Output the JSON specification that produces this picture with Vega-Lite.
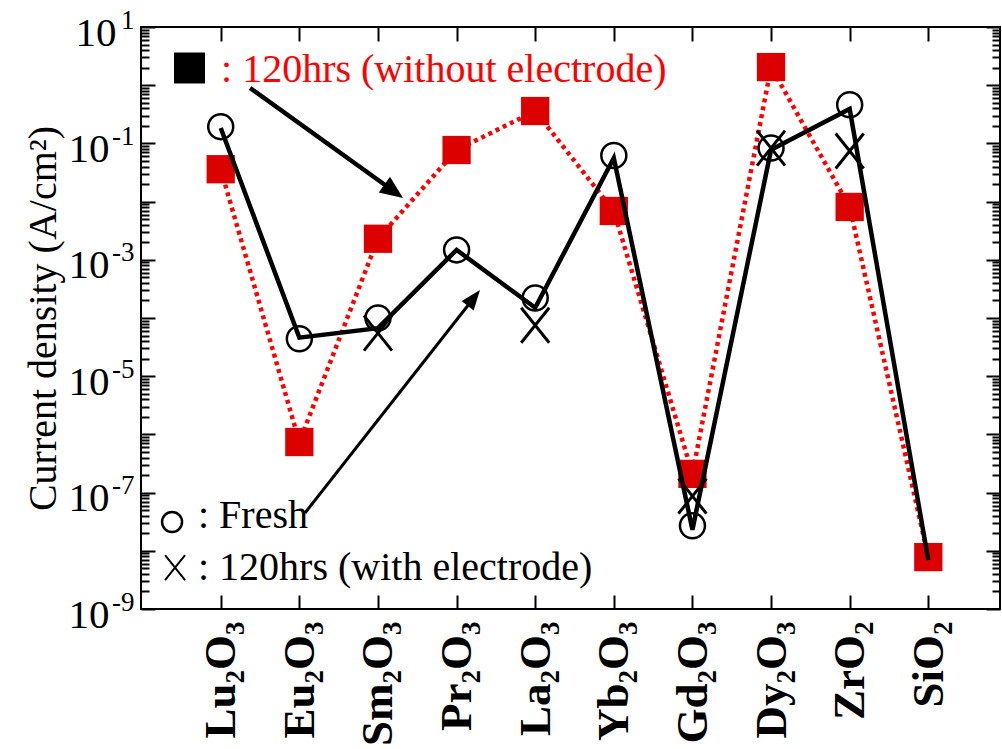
{
  "$schema": "https://vega.github.io/schema/vega-lite/v6.json",
  "width": 859,
  "height": 582,
  "autosize": "none",
  "padding": {"left": 141, "top": 27, "right": 2, "bottom": 140},
  "background": "white",
  "config": {
    "view": {"stroke": "black", "strokeWidth": 2},
    "axis": {"domain": false, "grid": false, "tickColor": "black", "tickWidth": 2, "labelColor": "black", "titleColor": "black", "labelOverlap": false, "labelFlush": false, "labelBound": false}
  },
  "datasets": {
    "main": [
      {"i": 0, "name": "Lu2O3", "red": 0.036, "fresh": 0.194, "line": 0.184, "elec": null},
      {"i": 1, "name": "Eu2O3", "red": 7.4e-7, "fresh": 4.4e-5, "line": 4.6e-5, "elec": null},
      {"i": 2, "name": "Sm2O3", "red": 2.3e-3, "fresh": 1.0e-4, "line": 6.7e-5, "elec": 5.5e-5},
      {"i": 3, "name": "Pr2O3", "red": 0.077, "fresh": 1.48e-3, "line": 1.48e-3, "elec": null},
      {"i": 4, "name": "La2O3", "red": 0.36, "fresh": 2.2e-4, "line": 1.5e-4, "elec": 7.5e-5},
      {"i": 5, "name": "Yb2O3", "red": 6.9e-3, "fresh": 0.062, "line": 0.056, "elec": null},
      {"i": 6, "name": "Gd2O3", "red": 2.1e-7, "fresh": 2.7e-8, "line": 2.3e-8, "elec": 8.7e-8},
      {"i": 7, "name": "Dy2O3", "red": 2.05, "fresh": 0.083, "line": 0.078, "elec": 0.083},
      {"i": 8, "name": "ZrO2", "red": 8.1e-3, "fresh": 0.46, "line": 0.39, "elec": 0.074},
      {"i": 9, "name": "SiO2", "red": 7.8e-9, "fresh": null, "line": 6.9e-9, "elec": null}
    ],
    "arrows": [
      {"id": 1, "x": 0.373, "y": 0.895, "x2": 2.179, "y2": 0.0158, "tx": 2.319, "ty": 0.01153},
      {"id": 2, "x": 1.072, "y": 4.47e-8, "x2": 3.219, "y2": 2.21e-4, "tx": 3.298, "ty": 3.03e-4}
    ],
    "notes": [
      {"kind": "square", "x": -0.397, "y": 1.975, "text": ""},
      {"kind": "circle", "x": -0.619, "y": 3.13e-8, "text": ""},
      {"kind": "cross", "x": -0.581, "y": 5.16e-9, "text": ""},
      {"kind": "redtext", "x": 0.004, "y": 1.113, "text": ": 120hrs (without electrode)"},
      {"kind": "blacktext", "x": -0.289, "y": 2.47e-8, "text": ": Fresh"},
      {"kind": "blacktext", "x": -0.289, "y": 3.15e-9, "text": ": 120hrs (with electrode)"}
    ]
  },
  "layer": [
    {
      "data": {"name": "main"},
      "mark": {"type": "line", "color": "#ff0000", "strokeWidth": 4.5, "strokeDash": [4, 4]},
      "encoding": {
        "x": {"field": "i", "type": "quantitative", "scale": {"domain": [-1.014, 9.912], "nice": false, "zero": false},
          "axis": {"orient": "bottom", "values": [0, 1, 2, 3, 4, 5, 6, 7, 8, 9], "tickSize": -14, "labelAngle": -90,
            "labelExpr": "['Lu₂O₃','Eu₂O₃','Sm₂O₃','Pr₂O₃','La₂O₃','Yb₂O₃','Gd₂O₃','Dy₂O₃','ZrO₂','SiO₂'][datum.value]",
            "labelFont": "Liberation Serif", "labelFontWeight": "bold", "labelFontSize": 45, "labelPadding": 26, "title": null}},
        "y": {"field": "red", "type": "quantitative", "scale": {"type": "log", "domain": [1e-9, 10], "nice": false},
          "axis": {"orient": "left", "values": [1e-9, 1e-8, 1e-7, 1e-6, 1e-5, 1e-4, 0.001, 0.01, 0.1, 1, 10], "tickSize": -14,
            "labelExpr": "(round(log(datum.value)/LN10) % 2 != 0) ? '10' : ''",
            "labelFont": "Liberation Serif", "labelFontSize": 41,
            "labelPadding": {"condition": {"test": "datum.value > 5", "value": 39}, "value": 46},
            "labelOffset": 6,
            "title": "Current density (A/cm²)", "titleFont": "Liberation Serif", "titleFontSize": 40, "titleFontWeight": "normal", "titlePadding": 5}}
      }
    },
    {
      "data": {"name": "main"},
      "mark": {"type": "point", "shape": "square", "filled": true, "color": "#dd0000", "size": 800, "opacity": 1},
      "encoding": {
        "x": {"field": "i", "type": "quantitative", "scale": {"domain": [-1.014, 9.912], "nice": false, "zero": false},
          "axis": {"orient": "top", "values": [0, 1, 2, 3, 4, 5, 6, 7, 8, 9], "tickSize": -14, "labels": false, "title": null}},
        "y": {"field": "red", "type": "quantitative", "scale": {"type": "log", "domain": [1e-9, 10], "nice": false},
          "axis": {"orient": "left", "tickSize": -8, "labels": false, "title": null,
            "values": [2e-9,3e-9,4e-9,5e-9,6e-9,7e-9,8e-9,9e-9,2e-8,3e-8,4e-8,5e-8,6e-8,7e-8,8e-8,9e-8,2e-7,3e-7,4e-7,5e-7,6e-7,7e-7,8e-7,9e-7,2e-6,3e-6,4e-6,5e-6,6e-6,7e-6,8e-6,9e-6,2e-5,3e-5,4e-5,5e-5,6e-5,7e-5,8e-5,9e-5,2e-4,3e-4,4e-4,5e-4,6e-4,7e-4,8e-4,9e-4,0.002,0.003,0.004,0.005,0.006,0.007,0.008,0.009,0.02,0.03,0.04,0.05,0.06,0.07,0.08,0.09,0.2,0.3,0.4,0.5,0.6,0.7,0.8,0.9,2,3,4,5,6,7,8,9]}}
      }
    },
    {
      "data": {"name": "main"},
      "mark": {"type": "line", "color": "black", "strokeWidth": 4.5},
      "encoding": {
        "x": {"field": "i", "type": "quantitative", "scale": {"domain": [-1.014, 9.912], "nice": false, "zero": false}, "axis": null},
        "y": {"field": "line", "type": "quantitative", "scale": {"type": "log", "domain": [1e-9, 10], "nice": false},
          "axis": {"orient": "right", "values": [1e-9, 1e-8, 1e-7, 1e-6, 1e-5, 1e-4, 0.001, 0.01, 0.1, 1, 10], "tickSize": -14, "labels": false, "title": null}}
      }
    },
    {
      "data": {"name": "main"},
      "transform": [{"filter": "isValid(datum.fresh)"}],
      "mark": {"type": "point", "shape": "circle", "filled": false, "color": "black", "strokeWidth": 2.5, "size": 625, "opacity": 1},
      "encoding": {
        "x": {"field": "i", "type": "quantitative", "scale": {"domain": [-1.014, 9.912], "nice": false, "zero": false}, "axis": null},
        "y": {"field": "fresh", "type": "quantitative", "scale": {"type": "log", "domain": [1e-9, 10], "nice": false},
          "axis": {"orient": "right", "tickSize": -8, "labels": false, "title": null,
            "values": [2e-9,3e-9,4e-9,5e-9,6e-9,7e-9,8e-9,9e-9,2e-8,3e-8,4e-8,5e-8,6e-8,7e-8,8e-8,9e-8,2e-7,3e-7,4e-7,5e-7,6e-7,7e-7,8e-7,9e-7,2e-6,3e-6,4e-6,5e-6,6e-6,7e-6,8e-6,9e-6,2e-5,3e-5,4e-5,5e-5,6e-5,7e-5,8e-5,9e-5,2e-4,3e-4,4e-4,5e-4,6e-4,7e-4,8e-4,9e-4,0.002,0.003,0.004,0.005,0.006,0.007,0.008,0.009,0.02,0.03,0.04,0.05,0.06,0.07,0.08,0.09,0.2,0.3,0.4,0.5,0.6,0.7,0.8,0.9,2,3,4,5,6,7,8,9]}}
      }
    },
    {
      "data": {"name": "main"},
      "transform": [{"filter": "isValid(datum.elec)"}],
      "mark": {"type": "point", "shape": "M-1,-1.25L1,1.25M1,-1.25L-1,1.25", "filled": false, "color": "black", "strokeWidth": 3, "size": 784, "opacity": 1},
      "encoding": {
        "x": {"field": "i", "type": "quantitative", "axis": null},
        "y": {"field": "elec", "type": "quantitative", "scale": {"type": "log", "domain": [1e-9, 10], "nice": false},
          "axis": {"orient": "left", "values": [1e-9, 1e-7, 1e-5, 0.001, 0.1, 10], "ticks": false, "title": null,
            "labelExpr": "['-9','-7','-5','-3','-1','1'][round((round(log(datum.value)/LN10)+9)/2)]",
            "labelFont": "Liberation Serif", "labelFontSize": 27, "labelPadding": 7, "labelOffset": -7}}
      }
    },
    {
      "data": {"name": "arrows"},
      "transform": [{"filter": "datum.id == 1"}],
      "mark": {"type": "rule", "color": "black", "strokeWidth": 4.5},
      "encoding": {
        "x": {"field": "x", "type": "quantitative", "axis": null},
        "y": {"field": "y", "type": "quantitative", "axis": null},
        "x2": {"field": "x2"},
        "y2": {"field": "y2"}
      }
    },
    {
      "data": {"name": "arrows"},
      "transform": [{"filter": "datum.id == 1"}],
      "mark": {"type": "point", "shape": "M0,0L0.42,1L-0.42,1Z", "filled": true, "color": "black", "size": 2116, "angle": 125.7, "opacity": 1},
      "encoding": {
        "x": {"field": "tx", "type": "quantitative", "axis": null},
        "y": {"field": "ty", "type": "quantitative", "axis": null}
      }
    },
    {
      "data": {"name": "arrows"},
      "transform": [{"filter": "datum.id == 2"}],
      "mark": {"type": "rule", "color": "black", "strokeWidth": 3},
      "encoding": {
        "x": {"field": "x", "type": "quantitative", "axis": null},
        "y": {"field": "y", "type": "quantitative", "axis": null},
        "x2": {"field": "x2"},
        "y2": {"field": "y2"}
      }
    },
    {
      "data": {"name": "arrows"},
      "transform": [{"filter": "datum.id == 2"}],
      "mark": {"type": "point", "shape": "M0,0L0.38,1L-0.38,1Z", "filled": true, "color": "black", "size": 1600, "angle": 38.1, "opacity": 1},
      "encoding": {
        "x": {"field": "tx", "type": "quantitative", "axis": null},
        "y": {"field": "ty", "type": "quantitative", "axis": null}
      }
    },
    {
      "data": {"name": "notes"},
      "transform": [{"filter": "datum.kind == 'square'"}],
      "mark": {"type": "point", "shape": "square", "filled": true, "color": "black", "size": 961, "opacity": 1},
      "encoding": {
        "x": {"field": "x", "type": "quantitative", "axis": null},
        "y": {"field": "y", "type": "quantitative", "axis": null}
      }
    },
    {
      "data": {"name": "notes"},
      "transform": [{"filter": "datum.kind == 'circle'"}],
      "mark": {"type": "point", "shape": "circle", "filled": false, "color": "black", "strokeWidth": 2.5, "size": 400, "opacity": 1},
      "encoding": {
        "x": {"field": "x", "type": "quantitative", "axis": null},
        "y": {"field": "y", "type": "quantitative", "axis": null}
      }
    },
    {
      "data": {"name": "notes"},
      "transform": [{"filter": "datum.kind == 'cross'"}],
      "mark": {"type": "point", "shape": "M-1,-1.25L1,1.25M1,-1.25L-1,1.25", "filled": false, "color": "black", "strokeWidth": 2, "size": 400, "opacity": 1},
      "encoding": {
        "x": {"field": "x", "type": "quantitative", "axis": null},
        "y": {"field": "y", "type": "quantitative", "axis": null}
      }
    },
    {
      "data": {"name": "notes"},
      "transform": [{"filter": "datum.kind == 'redtext'"}],
      "mark": {"type": "text", "color": "#ff0000", "font": "Liberation Serif", "fontSize": 40, "align": "left", "baseline": "alphabetic"},
      "encoding": {
        "x": {"field": "x", "type": "quantitative", "axis": null},
        "y": {"field": "y", "type": "quantitative", "axis": null},
        "text": {"field": "text"}
      }
    },
    {
      "data": {"name": "notes"},
      "transform": [{"filter": "datum.kind == 'blacktext'"}],
      "mark": {"type": "text", "color": "black", "font": "Liberation Serif", "fontSize": 40, "align": "left", "baseline": "alphabetic"},
      "encoding": {
        "x": {"field": "x", "type": "quantitative", "axis": null},
        "y": {"field": "y", "type": "quantitative", "axis": null},
        "text": {"field": "text"}
      }
    }
  ],
  "resolve": {"axis": {"x": "independent", "y": "independent"}}
}
